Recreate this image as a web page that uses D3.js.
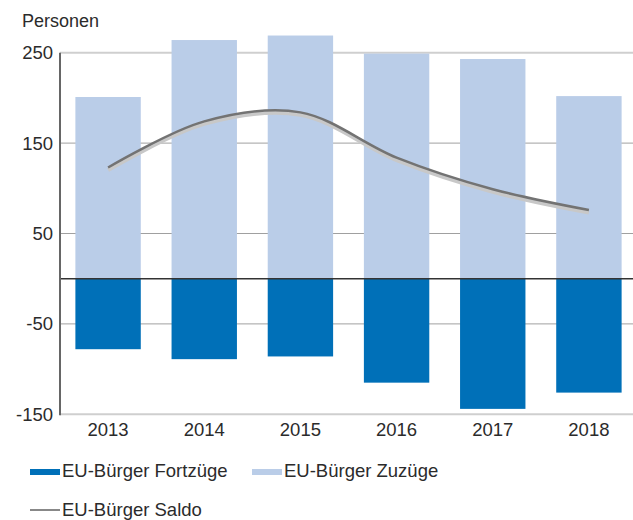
<!DOCTYPE html>
<html><head><meta charset="utf-8">
<script src="https://cdn.jsdelivr.net/npm/d3@7"></script>
<style>
html,body{margin:0;padding:0;background:#fff;}
svg{display:block;font-family:"Liberation Sans",Arial,Helvetica,sans-serif;}
</style></head>
<body><svg id="c" width="633" height="520"></svg>
<script>
const years = ["2013","2014","2015","2016","2017","2018"];
const zuzuege = [201, 264, 269, 249, 243, 202];
const fortzuege = [-78, -89, -86, -115, -144, -126];
const saldo = [123, 174, 184, 134, 99, 76];
const yTicks = [250, 150, 50, -50, -150];
const yLabel = "Personen";
const legendLabels = ["EU-Bürger Fortzüge", "EU-Bürger Zuzüge", "EU-Bürger Saldo"];

const colFort = "#0070b8", colZu = "#bacde8", colLine = "#737373";
const fs = 18.5, txt = "#2b2b2b";
const svg = d3.select("#c");
const x0 = 60, xEnd = 633;
const y = d3.scaleLinear().domain([-150, 250]).range([414.3, 52.7]);
const x = d3.scaleBand().domain(years).range([60, 637]).paddingInner(0.32).paddingOuter(0.16);

// gridlines
svg.append("g").selectAll("line").data(yTicks).join("line")
  .attr("x1", x0).attr("x2", xEnd)
  .attr("y1", d => y(d)).attr("y2", d => y(d))
  .attr("stroke", d => (d === 250 || d === -150) ? "#cfcfcf" : "#a0a0a0")
  .attr("stroke-width", d => (d === 250 || d === -150) ? 2 : 1);

// bars
svg.append("g").selectAll("rect").data(years).join("rect")
  .attr("x", d => x(d)).attr("width", x.bandwidth())
  .attr("y", (d, i) => y(zuzuege[i])).attr("height", (d, i) => y(0) - y(zuzuege[i]))
  .attr("fill", colZu);
svg.append("g").selectAll("rect").data(years).join("rect")
  .attr("x", d => x(d)).attr("width", x.bandwidth())
  .attr("y", y(0)).attr("height", (d, i) => y(fortzuege[i]) - y(0))
  .attr("fill", colFort);

// zero line
svg.append("line").attr("x1", x0).attr("x2", xEnd).attr("y1", y(0)).attr("y2", y(0))
  .attr("stroke", "#333").attr("stroke-width", 1.5);

// y axis line
svg.append("line").attr("x1", x0).attr("x2", x0).attr("y1", y(250)).attr("y2", y(-150) + 1)
  .attr("stroke", "#666").attr("stroke-width", 2);

// saldo line with shadow
const line = d3.line().x((d, i) => x(years[i]) + x.bandwidth() / 2).y(d => y(d)).curve(d3.curveCatmullRom.alpha(0.5));
svg.append("path").datum(saldo).attr("d", line).attr("fill", "none")
  .attr("stroke", "#c8c8c8").attr("stroke-width", 4).attr("transform", "translate(0,2.5)");
svg.append("path").datum(saldo).attr("d", line).attr("fill", "none")
  .attr("stroke", colLine).attr("stroke-width", 2.5);

// y tick labels
svg.append("g").selectAll("text").data(yTicks).join("text")
  .attr("x", 53).attr("y", d => y(d)).attr("dy", "0.35em")
  .attr("text-anchor", "end").attr("font-size", fs).attr("fill", txt)
  .text(d => d);
svg.append("text").attr("x", 22).attr("y", 27).attr("font-size", 18).attr("fill", txt).text(yLabel);

// x labels
svg.append("g").selectAll("text").data(years).join("text")
  .attr("x", d => x(d) + x.bandwidth() / 2).attr("y", 436)
  .attr("text-anchor", "middle").attr("font-size", fs).attr("fill", txt)
  .text(d => d);

// legend
const lg = svg.append("g");
lg.append("rect").attr("x", 30).attr("y", 469).attr("width", 30).attr("height", 6).attr("fill", colFort);
lg.append("text").attr("x", 62).attr("y", 477).attr("font-size", fs).attr("fill", txt).text(legendLabels[0]);
lg.append("rect").attr("x", 252).attr("y", 469).attr("width", 30).attr("height", 6).attr("fill", colZu);
lg.append("text").attr("x", 284).attr("y", 477).attr("font-size", fs).attr("fill", txt).text(legendLabels[1]);
lg.append("line").attr("x1", 30).attr("x2", 60).attr("y1", 510).attr("y2", 510).attr("stroke", "#888").attr("stroke-width", 2);
lg.append("text").attr("x", 62).attr("y", 516).attr("font-size", fs).attr("fill", txt).text(legendLabels[2]);
</script></body></html>
